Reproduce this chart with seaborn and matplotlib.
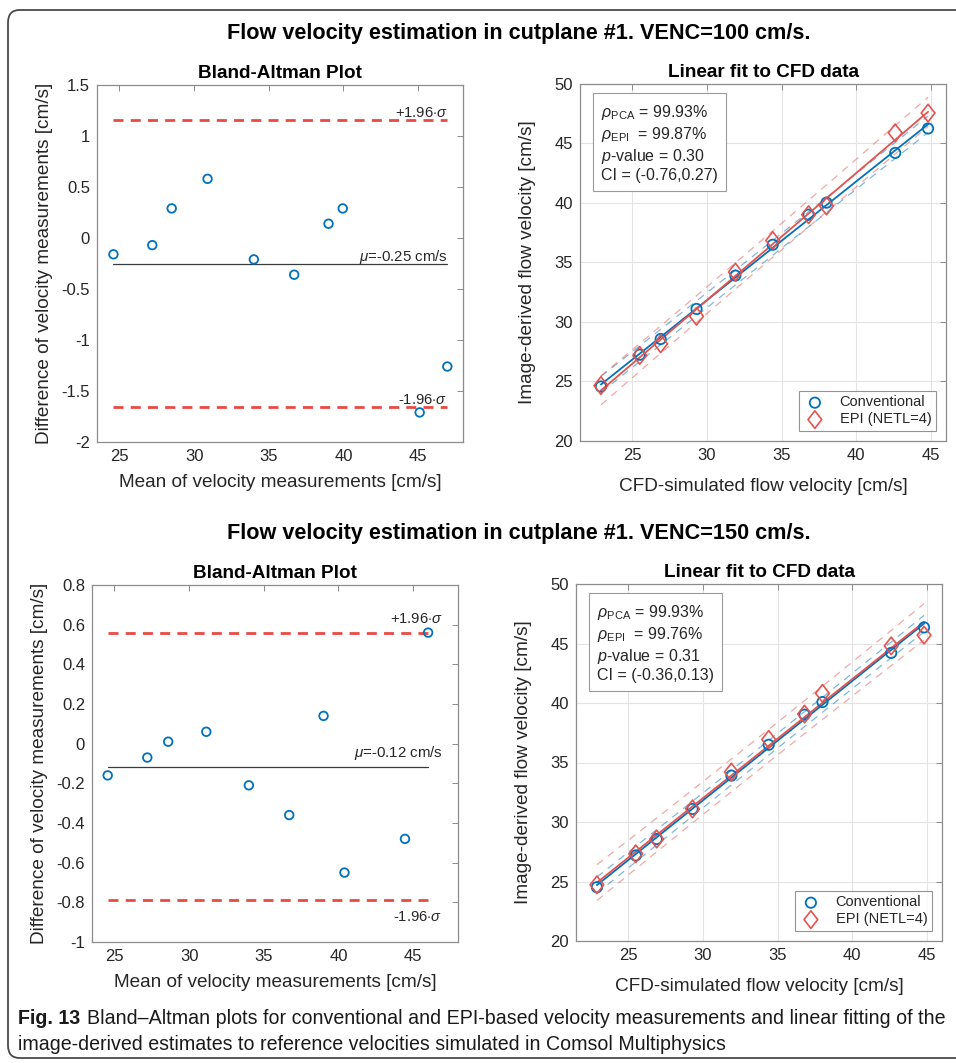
import numpy as np
import pandas as pd
import matplotlib
matplotlib.use("Agg")
import matplotlib.pyplot as plt
import seaborn as sns
from matplotlib.patches import FancyBboxPatch
from matplotlib.path import Path

# ---------------- data ----------------
ba1_mean = [24.6, 27.2, 28.5, 30.9, 34.0, 36.7, 39.0, 39.95, 45.1, 46.95]
ba1_diff = [-0.16, -0.07, 0.29, 0.58, -0.21, -0.36, 0.14, 0.29, -1.71, -1.26]
ba1_mu, ba1_hi, ba1_lo = -0.25, 1.16, -1.655

ba2_mean = [24.55, 27.2, 28.6, 31.15, 34.0, 36.7, 39.0, 40.4, 44.45, 46.0]
ba2_diff = [-0.16, -0.07, 0.01, 0.06, -0.21, -0.36, 0.14, -0.65, -0.48, 0.56]
ba2_mu, ba2_hi, ba2_lo = -0.12, 0.56, -0.79

cfd = [22.9, 25.5, 26.9, 29.3, 31.9, 34.4, 36.8, 38.0, 42.6, 44.8]
conv1 = [24.58, 27.25, 28.57, 31.1, 33.9, 36.49, 39.02, 40.03, 44.21, 46.26]
epi1 = [24.66, 27.19, 28.17, 30.48, 34.2, 36.85, 39.02, 39.75, 45.9, 47.56]
conv2 = [24.52, 27.19, 28.57, 31.1, 33.9, 36.49, 39.02, 40.08, 44.21, 46.35]
epi2 = [24.72, 27.33, 28.57, 31.1, 34.2, 36.94, 39.07, 40.81, 44.8, 45.7]

stats1 = ["99.93%", "99.87%", "0.30", "(-0.76,0.27)"]
stats2 = ["99.93%", "99.76%", "0.31", "(-0.36,0.13)"]

ba1_yticks = [-2, -1.5, -1, -0.5, 0, 0.5, 1, 1.5]
ba2_yticks = [-1, -0.8, -0.6, -0.4, -0.2, 0, 0.2, 0.4, 0.6, 0.8]
x_ticks = [25, 30, 35, 40, 45]
fit_yticks = [20, 25, 30, 35, 40, 45, 50]

suptitles = ["Flow velocity estimation in cutplane #1. VENC=100 cm/s.",
             "Flow velocity estimation in cutplane #1. VENC=150 cm/s."]
caption_bold = "Fig. 13"
caption_1 = "Bland\u2013Altman plots for conventional and EPI-based velocity measurements and linear fitting of the"
caption_2 = "image-derived estimates to reference velocities simulated in Comsol Multiphysics"

# ---------------- style ----------------
sns.set_theme(style="white")
plt.rcParams["font.family"] = ["Liberation Sans", "DejaVu Sans"]
plt.rcParams["axes.unicode_minus"] = False
plt.rcParams["mathtext.fontset"] = "custom"
plt.rcParams["mathtext.rm"] = "Liberation Sans"
plt.rcParams["mathtext.it"] = "Liberation Sans:italic"
plt.rcParams["xtick.direction"] = "in"
plt.rcParams["ytick.direction"] = "in"

BLUE = "#0072BD"
RED = "#E5534F"
RED_DASH = "#EA4A45"
SPINE = "#8c8c8c"
TXT = "#262626"

DIAMOND = Path([(0, 1), (0.78, 0), (0, -1), (-0.78, 0), (0, 1)],
               [Path.MOVETO, Path.LINETO, Path.LINETO, Path.LINETO, Path.CLOSEPOLY])

W, H = 956, 1063
fig = plt.figure(figsize=(W / 100, H / 100), dpi=100)
fig.patch.set_facecolor("white")


def ax_px(l, t, r, b):
    return fig.add_axes([l / W, 1 - b / H, (r - l) / W, (b - t) / H])


def fmt(v):
    s = ("%.1f" % v).rstrip("0").rstrip(".")
    return "0" if s in ("-0", "") else s


def style_axes(ax, grid=False):
    for s in ax.spines.values():
        s.set_color(SPINE)
        s.set_linewidth(0.9)
    ax.tick_params(which="both", top=True, right=True, length=4, width=0.7,
                   color=SPINE, labelsize=12, labelcolor=TXT, pad=5)
    if grid:
        ax.grid(True, color="#e4e4e4", linewidth=0.8)
        ax.set_axisbelow(True)


def bland_altman(ax, mean, diff, mu, hi, lo, yticks, ylim, offs):
    df = pd.DataFrame({"m": mean, "d": diff})
    xmin, xmax = min(mean), max(mean)
    ax.plot([xmin, xmax], [hi, hi], color=RED_DASH, lw=2.0, ls=(0, (3.6, 2.6)))
    ax.plot([xmin, xmax], [lo, lo], color=RED_DASH, lw=2.0, ls=(0, (3.6, 2.6)))
    ax.plot([xmin, xmax], [mu, mu], color="#3a3a3a", lw=0.9)
    sns.scatterplot(data=df, x="m", y="d", ax=ax, marker="o", s=38,
                    facecolor="none", edgecolor=BLUE, linewidth=1.3, zorder=5)
    ax.set_xlim(23.5, 48)
    ax.set_ylim(*ylim)
    ax.set_xticks(x_ticks)
    ax.set_xticklabels([str(t) for t in x_ticks])
    ax.set_yticks(yticks)
    ax.set_yticklabels([fmt(t) for t in yticks])
    ax.text(46.95, hi + offs[0], r"+1.96$\cdot\mathit{\sigma}$", ha="right", va="center",
            fontsize=10.6, color=TXT)
    ax.text(46.95, mu + offs[1], r"$\mathit{\mu}$=-%.2f cm/s" % abs(mu), ha="right", va="center",
            fontsize=10.8, color=TXT)
    ax.text(46.95, lo + offs[2], r"-1.96$\cdot\mathit{\sigma}$", ha="right", va="center",
            fontsize=10.6, color=TXT)
    ax.set_title("Bland-Altman Plot", fontsize=13.6, fontweight="bold", pad=5, color="black")
    ax.set_xlabel("Mean of velocity measurements [cm/s]", fontsize=13.7, color=TXT, labelpad=7)
    ax.set_ylabel("Difference of velocity measurements [cm/s]", fontsize=13.7, color=TXT, labelpad=6)
    style_axes(ax)


def fit_band(x, y):
    x = np.asarray(x, float)
    y = np.asarray(y, float)
    b, a = np.polyfit(x, y, 1)
    yhat = a + b * x
    n = len(x)
    s = np.sqrt(np.sum((y - yhat) ** 2) / (n - 2))
    sxx = np.sum((x - x.mean()) ** 2)
    half = 2.306 * s * np.sqrt(1 + 1 / n + (x - x.mean()) ** 2 / sxx)
    return yhat, yhat - half, yhat + half


def linear_fit(ax, x, conv, epi, stats):
    for y, col in ((conv, BLUE), (epi, RED)):
        yhat, lo, hi = fit_band(x, y)
        dfl = pd.DataFrame({"x": x, "yhat": yhat, "lo": lo, "hi": hi})
        sns.lineplot(data=dfl, x="x", y="yhat", ax=ax, color=col, lw=1.3, estimator=None)
        for c in ("lo", "hi"):
            ax.plot(dfl["x"], dfl[c], color=col, lw=0.9, alpha=0.5, ls=(0, (6, 5)))
    df = pd.DataFrame({"x": list(x) * 2, "y": list(conv) + list(epi),
                       "g": ["Conventional"] * len(x) + ["EPI (NETL=4)"] * len(x)})
    sns.scatterplot(data=df[df.g == "Conventional"], x="x", y="y", ax=ax, marker="o", s=55,
                    facecolor="none", edgecolor=BLUE, linewidth=1.3, zorder=5, label="Conventional")
    sns.scatterplot(data=df[df.g != "Conventional"], x="x", y="y", ax=ax, marker=DIAMOND, s=160,
                    facecolor="none", edgecolor=RED, linewidth=1.2, zorder=5, label="EPI (NETL=4)")
    ax.set_xlim(21.5, 46)
    ax.set_ylim(20, 50)
    ax.set_xticks(x_ticks)
    ax.set_yticks(fit_yticks)
    ax.set_title("Linear fit to CFD data", fontsize=13.6, fontweight="bold", pad=5, color="black")
    ax.set_xlabel("CFD-simulated flow velocity [cm/s]", fontsize=13.7, color=TXT, labelpad=11)
    ax.set_ylabel("Image-derived flow velocity [cm/s]", fontsize=13.7, color=TXT, labelpad=13)
    txt = (r"$\mathit{\rho}_{\rm PCA}$ = " + stats[0] + "\n" +
           r"$\mathit{\rho}_{\rm EPI}$  = " + stats[1] + "\n" +
           r"$\mathit{p}$-value = " + stats[2] + "\n" +
           "CI = " + stats[3])
    ax.text(0.057, 0.948, txt, transform=ax.transAxes, ha="left", va="top", fontsize=11.5,
            color=TXT, linespacing=1.22,
            bbox=dict(boxstyle="square,pad=0.5", fc="white", ec="#9a9a9a", lw=0.8))
    leg = ax.legend(loc="lower right", fontsize=10.5, frameon=True, fancybox=False,
                    borderaxespad=0.7, handletextpad=0.9, borderpad=0.3, labelspacing=0.2,
                    handlelength=1.6)
    leg.get_frame().set_edgecolor("#7a7a7a")
    leg.get_frame().set_linewidth(0.8)
    style_axes(ax, grid=True)


ax1 = ax_px(97, 85, 463, 442)
ax2 = ax_px(580, 84, 946, 441)
ax3 = ax_px(92, 585, 458, 942)
ax4 = ax_px(576, 584, 942, 941)

bland_altman(ax1, ba1_mean, ba1_diff, ba1_mu, ba1_hi, ba1_lo, ba1_yticks, (-2, 1.5),
             (0.065, 0.065, 0.065))
linear_fit(ax2, cfd, conv1, epi1, stats1)
bland_altman(ax3, ba2_mean, ba2_diff, ba2_mu, ba2_hi, ba2_lo, ba2_yticks, (-1, 0.8),
             (0.07, 0.072, -0.082))
linear_fit(ax4, cfd, conv2, epi2, stats2)

fig.text(519 / W, 1 - 33 / H, suptitles[0], ha="center", va="center", fontsize=15.6,
         fontweight="bold", color="black")
fig.text(519 / W, 1 - 533 / H, suptitles[1], ha="center", va="center", fontsize=15.6,
         fontweight="bold", color="black")

# frame
frame = FancyBboxPatch((8 / W, 1 - 1058 / H), (990 - 8) / W, (1058 - 10) / H,
                       boxstyle="round,pad=0,rounding_size=0.012", transform=fig.transFigure,
                       fc="none", ec="#4a4a4a", lw=1.3, clip_on=False)
fig.patches.append(frame)

# caption
cap_font = ["Liberation Sans", "DejaVu Sans"]
t0 = fig.text(18 / W, 1 - 1018 / H, caption_bold, ha="left", va="center", fontsize=14.1,
              fontweight="bold", family=cap_font, color="#1a1a1a")
fig.canvas.draw()
bb = t0.get_window_extent(fig.canvas.get_renderer())
fig.text((bb.x1 + 7) / W, 1 - 1018 / H, caption_1, ha="left", va="center", fontsize=14.1,
         family=cap_font, color="#1a1a1a")
fig.text(18 / W, 1 - 1045 / H, caption_2, ha="left", va="center", fontsize=14.1,
         family=cap_font, color="#1a1a1a")

fig.savefig("out.png", dpi=100, facecolor="white")
